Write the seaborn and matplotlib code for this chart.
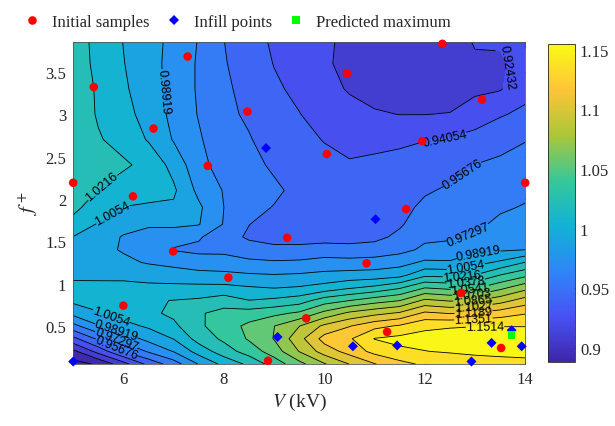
import numpy as np
import pandas as pd
import matplotlib
matplotlib.use('Agg')
import matplotlib.pyplot as plt
import seaborn as sns
from matplotlib.colors import LinearSegmentedColormap, Normalize
from matplotlib.ticker import FuncFormatter

# surface: one f+ profile per voltage
v_grid = [5, 5.5, 6, 6.5, 7, 7.5, 8, 8.5, 9, 9.5, 10, 10.5, 11, 11.5, 12, 12.5, 13, 13.5, 14]
f_grid = [0.05, 0.2, 0.35, 0.5, 0.65, 0.8, 0.95, 1.1, 1.25, 1.4,
          1.55, 1.7, 1.9, 2.1, 2.4, 2.7, 3.0, 3.3, 3.6, 3.85]
profiles = [
    [0.886, 0.904, 0.936, 0.968, 0.994, 1.009, 1.010, 1.002, 0.996, 0.998, 1.005, 1.016, 1.026, 1.031, 1.034, 1.034, 1.032, 1.029, 1.027, 1.026],
    [0.894, 0.930, 0.960, 0.988, 1.004, 1.013, 1.011, 1.001, 0.994, 0.993, 0.997, 1.004, 1.013, 1.021, 1.029, 1.023, 1.020, 1.020, 1.019, 1.019],
    [0.918, 0.957, 0.980, 1.000, 1.012, 1.017, 1.012, 1.000, 0.992, 0.988, 0.988, 0.995, 1.005, 1.014, 1.024, 1.016, 1.011, 1.008, 1.006, 1.005],
    [0.945, 0.975, 0.994, 1.008, 1.018, 1.020, 1.010, 0.998, 0.988, 0.979, 0.981, 0.992, 1.003, 1.012, 1.017, 1.004, 0.999, 0.996, 0.995, 0.995],
    [0.965, 0.990, 1.006, 1.018, 1.025, 1.022, 1.010, 0.996, 0.985, 0.972, 0.978, 0.993, 1.003, 1.008, 1.000, 0.988, 0.985, 0.984, 0.984, 0.985],
    [0.990, 1.012, 1.028, 1.035, 1.036, 1.024, 1.010, 0.994, 0.981, 0.969, 0.975, 0.990, 0.992, 0.985, 0.978, 0.975, 0.972, 0.971, 0.971, 0.972],
    [1.010, 1.030, 1.041, 1.046, 1.043, 1.030, 1.010, 0.993, 0.980, 0.969, 0.962, 0.972, 0.973, 0.972, 0.966, 0.962, 0.961, 0.960, 0.958, 0.957],
    [1.025, 1.045, 1.056, 1.058, 1.045, 1.022, 1.007, 0.991, 0.977, 0.962, 0.955, 0.957, 0.962, 0.965, 0.962, 0.958, 0.954, 0.951, 0.949, 0.948],
    [1.045, 1.062, 1.071, 1.070, 1.050, 1.025, 1.005, 0.990, 0.975, 0.960, 0.952, 0.952, 0.956, 0.960, 0.954, 0.949, 0.946, 0.943, 0.940, 0.938],
    [1.065, 1.087, 1.097, 1.086, 1.057, 1.030, 1.007, 0.991, 0.976, 0.960, 0.952, 0.951, 0.952, 0.952, 0.948, 0.944, 0.941, 0.937, 0.935, 0.934],
    [1.085, 1.110, 1.125, 1.106, 1.075, 1.046, 1.012, 0.993, 0.980, 0.962, 0.952, 0.950, 0.949, 0.948, 0.944, 0.940, 0.934, 0.929, 0.926, 0.926],
    [1.103, 1.125, 1.133, 1.118, 1.090, 1.054, 1.020, 0.995, 0.979, 0.961, 0.952, 0.950, 0.948, 0.946, 0.942, 0.936, 0.929, 0.923, 0.921, 0.922],
    [1.118, 1.140, 1.152, 1.130, 1.098, 1.063, 1.026, 0.996, 0.980, 0.963, 0.953, 0.950, 0.949, 0.948, 0.944, 0.936, 0.926, 0.918, 0.914, 0.913],
    [1.130, 1.148, 1.156, 1.137, 1.105, 1.070, 1.036, 1.000, 0.983, 0.968, 0.960, 0.955, 0.952, 0.950, 0.945, 0.938, 0.924, 0.914, 0.911, 0.912],
    [1.138, 1.151, 1.157, 1.148, 1.122, 1.090, 1.054, 1.018, 0.992, 0.976, 0.970, 0.965, 0.960, 0.955, 0.948, 0.940, 0.924, 0.915, 0.912, 0.912],
    [1.140, 1.153, 1.158, 1.150, 1.118, 1.085, 1.050, 1.017, 0.991, 0.978, 0.971, 0.968, 0.964, 0.959, 0.951, 0.942, 0.925, 0.915, 0.912, 0.914],
    [1.143, 1.155, 1.158, 1.151, 1.121, 1.086, 1.052, 1.022, 1.000, 0.985, 0.975, 0.970, 0.966, 0.962, 0.957, 0.946, 0.932, 0.921, 0.921, 0.926],
    [1.145, 1.156, 1.158, 1.151, 1.127, 1.096, 1.066, 1.038, 1.008, 0.987, 0.981, 0.976, 0.971, 0.967, 0.960, 0.951, 0.939, 0.923, 0.922, 0.926],
    [1.147, 1.156, 1.158, 1.151, 1.134, 1.110, 1.081, 1.050, 1.022, 0.989, 0.985, 0.980, 0.974, 0.970, 0.963, 0.956, 0.944, 0.935, 0.930, 0.930],
]

# contour levels as printed on the lines
levels = [0.87568, 0.89189, 0.90811, 0.92432, 0.94054, 0.95676, 0.97297, 0.98919,
          1.0054, 1.0216, 1.0378, 1.0541, 1.0703, 1.0865, 1.1027, 1.1189, 1.1351,
          1.1514, 1.1676]

init_v = [5.0, 5.41, 6.6, 7.28, 6.19, 7.68, 8.47, 10.45, 12.35, 13.14, 11.95, 10.05,
          14.0, 11.63, 9.26, 6.99, 8.09, 10.84, 6.0, 8.88, 9.64, 11.25, 12.72, 13.52]
init_f = [2.19, 3.32, 2.83, 3.68, 2.03, 2.39, 3.03, 3.48, 3.83, 3.17, 2.68, 2.53,
          2.19, 1.88, 1.54, 1.38, 1.07, 1.24, 0.74, 0.09, 0.59, 0.43, 0.89, 0.24]
infill_v = [5.0, 8.84, 11.02, 9.07, 10.57, 11.45, 12.93, 13.33, 13.93, 13.73]
infill_f = [0.08, 2.60, 1.76, 0.37, 0.26, 0.27, 0.08, 0.30, 0.26, 0.45]
best_v = [13.73]
best_f = [0.39]

parula = LinearSegmentedColormap.from_list('parula', [
    (0.2422, 0.1504, 0.6603), (0.2810, 0.3228, 0.9579), (0.1786, 0.5289, 0.9682),
    (0.0689, 0.6948, 0.8394), (0.2161, 0.7843, 0.5923), (0.6720, 0.7793, 0.2227),
    (0.9970, 0.7659, 0.2199), (0.9769, 0.9839, 0.0805)])

sns.set_style('ticks')
plt.rcParams['font.family'] = ['Liberation Serif', 'DejaVu Serif']
plt.rcParams['mathtext.fontset'] = 'stix'

fig = plt.figure(figsize=(6.15, 4.27), dpi=100)
ax = fig.add_axes([0.119, 0.145, 0.735, 0.754])
cax = fig.add_axes([0.891, 0.150, 0.044, 0.745])

norm = Normalize(vmin=0.888, vmax=1.155)
band_colors = [parula(norm(l)) for l in levels[:-1]]

X, Y = np.meshgrid(v_grid, f_grid)
Z = np.array(profiles).T
ax.contourf(X, Y, Z, levels=levels, colors=band_colors)
cs = ax.contour(X, Y, Z, levels=levels, colors='k', linewidths=0.6)

# where the labels sit in the original figure
label_spots = [(5.55, 2.16), (5.75, 1.86), (6.7, 3.26), (13.72, 3.55), (12.4, 2.72),
               (12.74, 2.3), (12.88, 1.56), (13.07, 1.34), (12.82, 1.19), (12.74, 1.1),
               (12.82, 1.02), (12.9, 0.94), (12.93, 0.86), (12.95, 0.8), (12.97, 0.74),
               (12.97, 0.66), (12.97, 0.57), (13.2, 0.42), (5.75, 0.6), (5.85, 0.43),
               (5.85, 0.33), (5.85, 0.23)]
ax.clabel(cs, fmt='%.5g', fontsize=9, inline=True, inline_spacing=2, manual=label_spots)
for t in cs.labelTexts:
    t.set_fontfamily('Liberation Sans')

pts = pd.DataFrame({
    'V': init_v + infill_v + best_v,
    'f': init_f + infill_f + best_f,
    'kind': ['Initial samples'] * len(init_v) + ['Infill points'] * len(infill_v)
            + ['Predicted maximum'] * len(best_v),
})
sns.scatterplot(data=pts, x='V', y='f', hue='kind', style='kind', size='kind',
                palette={'Initial samples': '#ff0000', 'Infill points': '#0000ff',
                         'Predicted maximum': '#00ff00'},
                markers={'Initial samples': 'o', 'Infill points': 'D',
                         'Predicted maximum': 's'},
                sizes={'Initial samples': 38, 'Infill points': 26, 'Predicted maximum': 30},
                linewidth=0, ax=ax, clip_on=False, zorder=5)

ax.set_xlim(5, 14)
ax.set_ylim(0.05, 3.85)
ax.set_xticks([6, 8, 10, 12, 14])
ax.set_yticks([0.5, 1, 1.5, 2, 2.5, 3, 3.5])
ax.yaxis.set_major_formatter(FuncFormatter(lambda v, p: '%g' % v))
ax.tick_params(direction='in', top=True, right=True, labelsize=12, length=4, width=0.6, pad=5)
ax.set_xlabel('$V$ (kV)', fontsize=14, labelpad=3)
ax.set_ylabel('$f^+$', fontsize=15, labelpad=4)
for s in ax.spines.values():
    s.set_linewidth(0.6)
    s.set_color('#555555')

handles, labels = ax.get_legend_handles_labels()
ax.legend_.remove()
fig.legend(handles, labels, loc='upper left', bbox_to_anchor=(0.014, 1.0), ncol=3,
           frameon=False, fontsize=12, handlelength=1.0, handletextpad=0.7,
           columnspacing=0.95)

sm = plt.cm.ScalarMappable(norm=norm, cmap=parula)
cb = fig.colorbar(sm, cax=cax, ticks=[0.9, 0.95, 1, 1.05, 1.1, 1.15])
cb.ax.yaxis.set_major_formatter(FuncFormatter(lambda v, p: '%g' % v))
cb.ax.tick_params(direction='in', labelsize=12, length=3, width=0.6)
cb.outline.set_linewidth(0.6)

fig.savefig('out.png', dpi=100)
